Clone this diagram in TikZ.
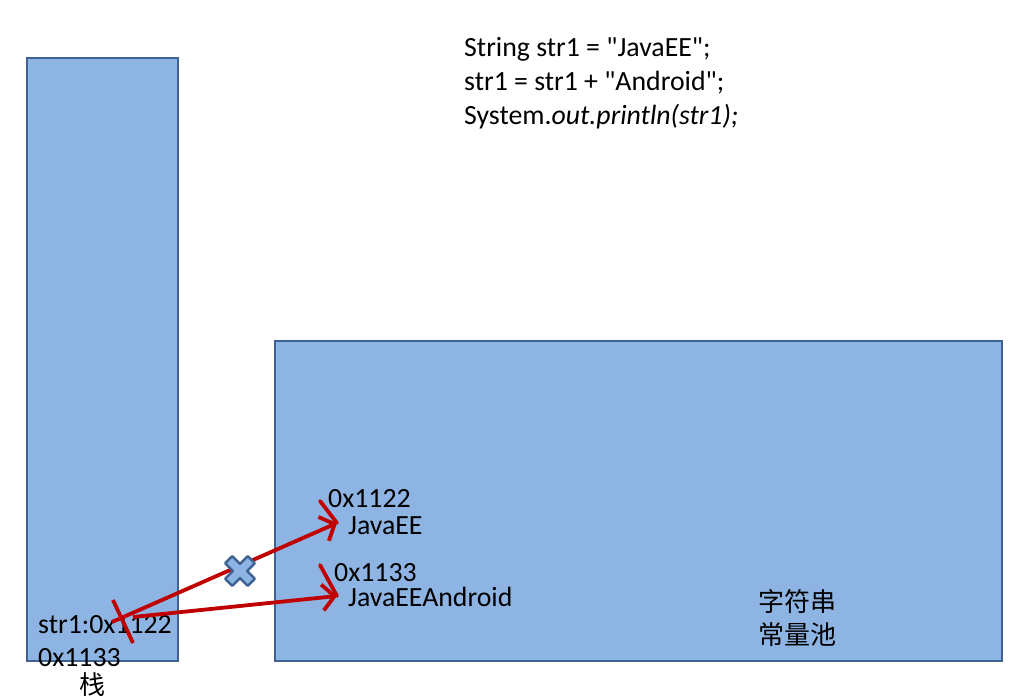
\documentclass[tikz,border=0pt]{standalone}
\usepackage{fontspec}
\setmainfont{Carlito}[Ligatures=TeXOff]
\newfontfamily\cjk{Noto Sans CJK SC}
\usetikzlibrary{arrows.meta}
\definecolor{boxfill}{HTML}{8EB4E3}
\definecolor{boxline}{HTML}{3E6291}
\definecolor{arrred}{HTML}{C00000}
\tikzset{
  memblock/.style={fill=boxfill, draw=boxline, line width=2.8pt},
  txt/.style={anchor=base west, inner sep=0pt, font=\fontsize{27.8}{34}\selectfont},
  cjktxt/.style={anchor=center, inner sep=0pt, font=\fontsize{26}{32}\selectfont\cjk},
  refarrow/.style={draw=arrred, line width=3.8pt, -{Straight Barb[length=12pt,width=26pt,line width=3.8pt]}},
  strike/.style={draw=arrred, line width=3.8pt},
  crossmark/.style={fill=boxfill, draw=boxline, line width=2.4pt, line join=round}
}
\begin{document}
\begin{tikzpicture}[x=1pt,y=-1pt]
\useasboundingbox (0,0) rectangle (1035,700);
% blocks
\path[memblock] (27,58) rectangle (178,661);
\node[inner sep=0pt] (stack) at (102.5,359.5) {};
\path[memblock] (275,341) rectangle (1002,661);
\node[inner sep=0pt] (pool) at (638.5,501) {};
% code
\node[txt] (code1) at (464,57) {String str1 = "JavaEE";};
\node[txt] (code2) at (464,91) {str1 = str1 + "Android";};
\node[txt] (code3) at (464,125) {System.\textit{out.println(str1);}};
% pool entries
\node[txt] (addr1) at (328,507) {0x1122};
\node[txt] (val1) at (348,534) {JavaEE};
\node[txt] (addr2) at (334,581) {0x1133};
\node[txt] (val2) at (348,606) {JavaEEAndroid};
\node[cjktxt] (poolname1) at (797,602) {字符串};
\node[cjktxt] (poolname2) at (797,635) {常量池};
% stack entries
\node[txt] (str1) at (38,633) {str1:0x1122};
\node[txt] (newaddr) at (38,666) {0x1133};
\node[cjktxt] (stackname) at (92,685) {栈};
% arrows
\coordinate (s1) at (112,622);
\coordinate (e1) at (337,523);
\coordinate (s2) at (133,617);
\coordinate (e2) at (337,596);
\draw[refarrow] (s1) -- (e1);
\draw[refarrow] (s2) -- (e2);
\coordinate (w1a) at (320,501);
\coordinate (w2a) at (320,565);
\draw[strike, line cap=round] (w1a) -- (e1);
\draw[strike, line cap=round] (w2a) -- (e2);
% strike over old reference
\coordinate (k1) at (113,600);
\coordinate (k2) at (133,643);
\draw[strike] (k1) -- (k2);
% cross mark
\begin{scope}[shift={(240,571)}, rotate=45]
\path[crossmark] (-5,-16) -- (5,-16) -- (5,-5) -- (16,-5) -- (16,5) -- (5,5) -- (5,16) -- (-5,16) -- (-5,5) -- (-16,5) -- (-16,-5) -- (-5,-5) -- cycle;
\end{scope}
\node[inner sep=0pt] (xmark) at (240,571) {};
\end{tikzpicture}
\end{document}
